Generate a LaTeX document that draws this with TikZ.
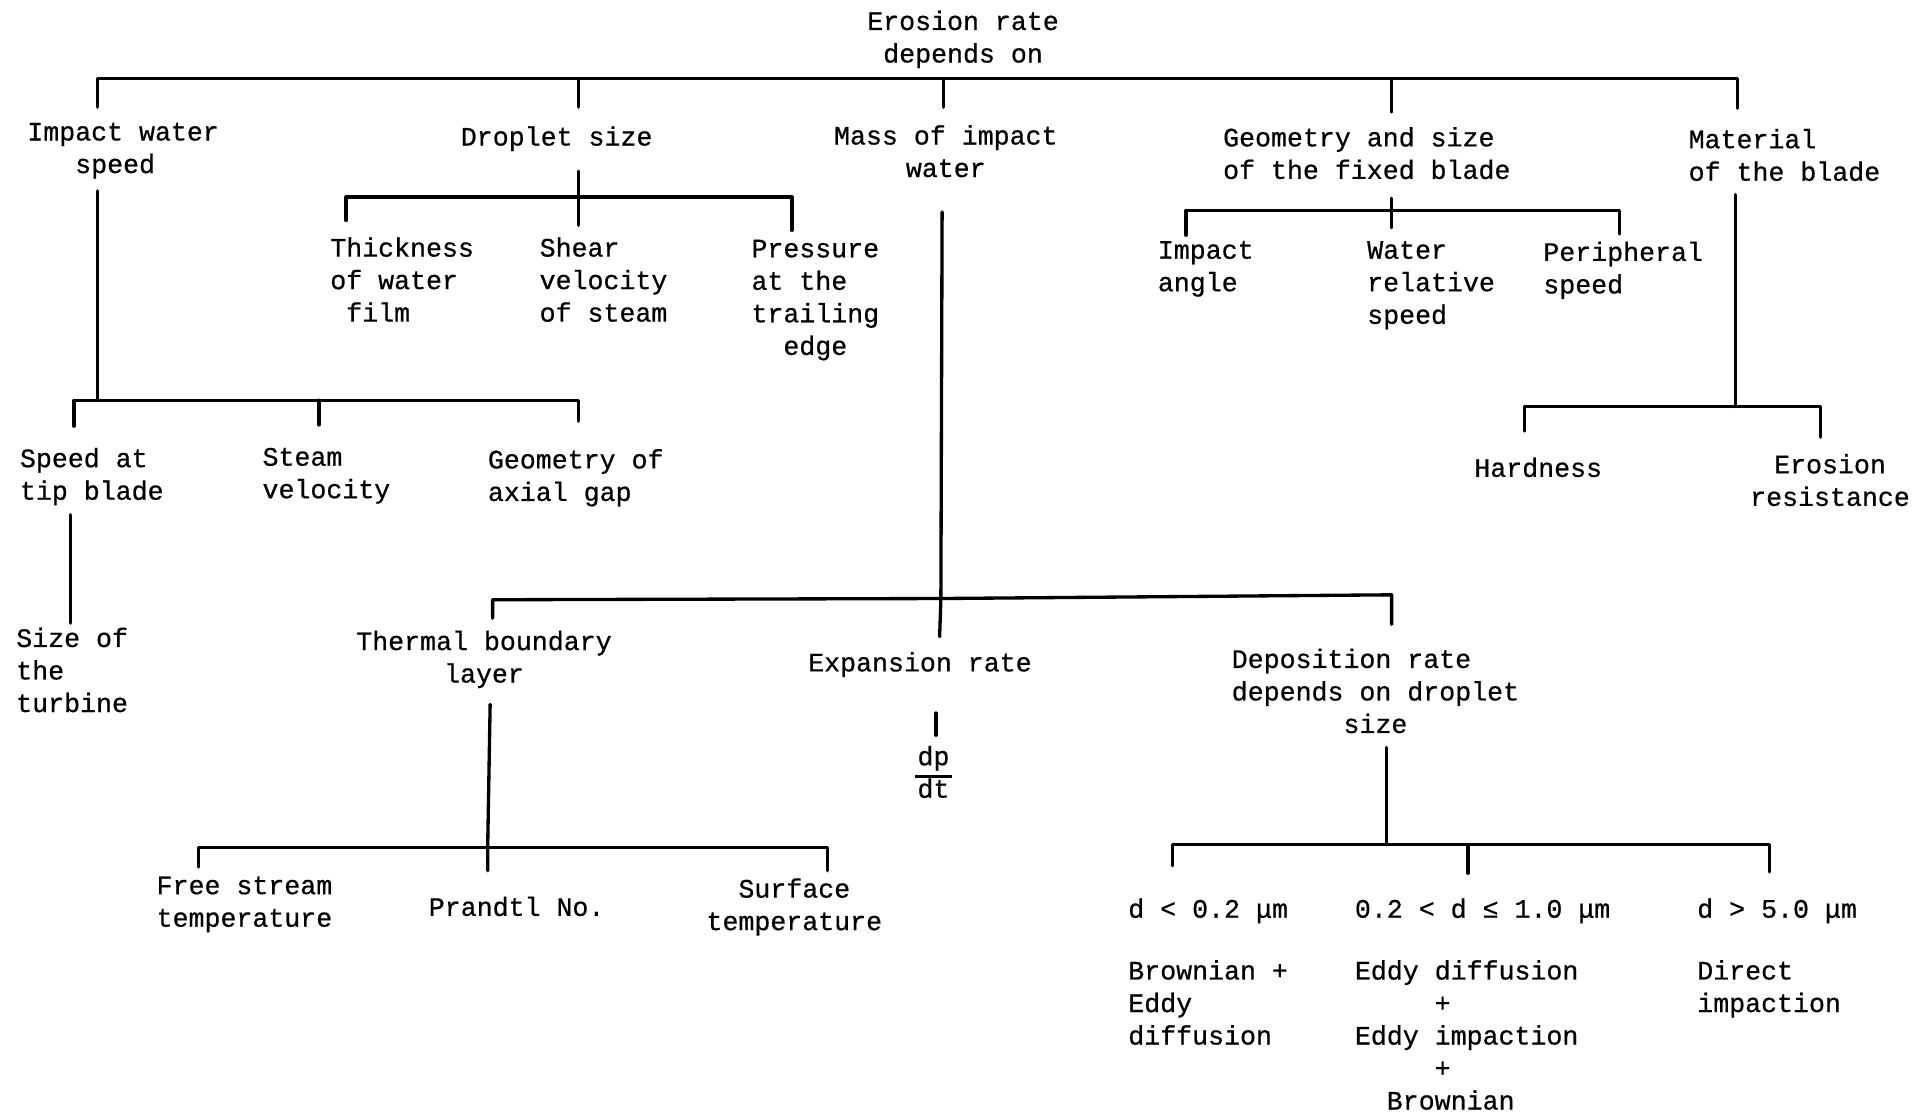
\documentclass[tikz,border=0pt]{standalone}
\usepackage{fontspec}
\newfontfamily\monofam[FakeBold=0.6]{Liberation Mono}
\newcommand\txtfont{\monofam\fontsize{21.6}{26.4}\selectfont}
\begin{document}
\begin{tikzpicture}[x=1pt,y=-1pt,
  lbl/.style={inner sep=0pt, font=\txtfont, execute at begin node=\strut, yshift=-3pt},
  lbll/.style={lbl, align=left, anchor=north west},
  lblc/.style={lbl, align=center, anchor=north},
  conn/.style={line width=2.7pt, line cap=round, line join=round}]
\useasboundingbox[fill=white] (0,0) rectangle (1568,905);

% ---------- texts ----------
\node[lblc] (root) at (782,5.5) {Erosion rate\\depends on};
\node[lbll] (iws) at (22,96.5) {Impact water\\\phantom{xxx}speed};
\node[lblc] (ds) at (452,96.5) {Droplet size};
\node[lblc] (miw) at (768,98.5) {Mass of impact\\water};
\node[lbll] (gsb) at (993,100) {Geometry and size\\of the fixed blade};
\node[lbll] (mat) at (1371,101.5) {Material\\of the blade};

\node[lbll] (thick) at (268,189.5) {Thickness\\of water\\\phantom{x}film};
\node[lbll] (shear) at (438,189.5) {Shear\\velocity\\of steam};
\node[lbll] (press) at (610,191.5) {Pressure\\at the\\trailing\\\phantom{xx}edge};

\node[lbll] (ia) at (940,192.5) {Impact\\angle};
\node[lbll] (wrs) at (1110,192.5) {Water\\relative\\speed};
\node[lbll] (ps) at (1253,193) {Peripheral\\speed};

\node[lbll] (sat) at (16,360.5) {Speed at\\tip blade};
\node[lbll] (sv) at (213,360.5) {Steam\\velocity};
\node[lbll] (goag) at (396,361.5) {Geometry of\\axial gap};
\node[lbll] (sot) at (13,506.5) {Size of\\the\\turbine};

\node[lbll] (hard) at (1197,365.5) {Hardness};
\node[lblc] (eres) at (1486,365.5) {Erosion\\resistance};

\node[lblc] (tbl) at (393,509) {Thermal boundary\\layer};
\node[lblc] (er) at (747,523.5) {Expansion rate};
\node[lblc] (dpdt) at (758,602.5) {dp\\dt};
\node[lbll] (dr) at (1000,523.5) {Deposition rate\\depends on droplet\\\phantom{xxxxxxx}size};

\node[lbll] (fst) at (127,708.5) {Free stream\\temperature};
\node[lbll] (pn) at (348,722) {Prandtl No.};
\node[lblc] (st) at (645,710) {Surface\\temperature};

\node[lbll] (d1) at (916,723.5) {d < 0.2 μm};
\node[lbll] (d2) at (1100,723.5) {0.2 < d ≤ 1.0 μm};
\node[lbll] (d3) at (1378,723.5) {d > 5.0 μm};
\node[lbll] (m1) at (916,776.5) {Brownian +\\Eddy\\diffusion};
\node[lbll] (m2) at (1100,776.5) {Eddy diffusion\\\phantom{xxxxx}+\\Eddy impaction\\\phantom{xxxxx}+\\\phantom{xx}Brownian};
\node[lbll] (m3) at (1378,776.5) {Direct\\impaction};

% fraction bar
\draw[line width=2.2pt] ([xshift=-15pt]dpdt.center) -- ([xshift=15pt]dpdt.center);

% ---------- coordinates ----------
% top bracket
\coordinate (jA1) at (79,64);   \coordinate (eA1) at (79,87);
\coordinate (jA2) at (470,64);  \coordinate (eA2) at (470,87);
\coordinate (jA3) at (766,64);  \coordinate (eA3) at (766,87);
\coordinate (jA4) at (1130,64); \coordinate (eA4) at (1130,91);
\coordinate (jA5) at (1411,64); \coordinate (eA5) at (1411,88);
% impact water speed
\coordinate (sB) at (79,155); \coordinate (jB0) at (79,325);
\coordinate (jB1) at (60,325); \coordinate (eB1) at (60,346);
\coordinate (jB2) at (259,325); \coordinate (eB2) at (259,345);
\coordinate (jB3) at (470,325); \coordinate (eB3) at (470,342);
\coordinate (sC) at (57,418); \coordinate (eC) at (57,506);
% droplet size
\coordinate (sD) at (470,139); \coordinate (jD0) at (470,160); \coordinate (eD0) at (470,183);
\coordinate (jD1) at (281,160); \coordinate (eD1) at (281,179);
\coordinate (jD3) at (643,160); \coordinate (eD3) at (643,187);
% mass of impact water
\coordinate (sE) at (765,172); \coordinate (jE0) at (764,486); \coordinate (eE0) at (763,517);
\coordinate (jE1) at (400,487); \coordinate (eE1) at (400,502);
\coordinate (jE3) at (1130,483); \coordinate (eE3) at (1130,507);
\coordinate (sF) at (760,579); \coordinate (eF) at (760,597);
% thermal boundary layer
\coordinate (sG) at (398,572); \coordinate (jG0) at (396,688); \coordinate (eG0) at (396,707);
\coordinate (jG1) at (161,688); \coordinate (eG1) at (161,704);
\coordinate (jG3) at (672,688); \coordinate (eG3) at (672,707);
% deposition
\coordinate (sH) at (1126,607); \coordinate (jH0) at (1126,686);
\coordinate (jH1) at (952,686); \coordinate (eH1) at (952,703);
\coordinate (jH2) at (1192,686); \coordinate (eH2) at (1192,709);
\coordinate (jH3) at (1437,686); \coordinate (eH3) at (1437,708);
% geometry
\coordinate (sI) at (1130,161); \coordinate (jI0) at (1130,171); \coordinate (eI0) at (1130,185);
\coordinate (jI1) at (963,171); \coordinate (eI1) at (963,191);
\coordinate (jI3) at (1315,171); \coordinate (eI3) at (1315,190);
% material
\coordinate (sJ) at (1409,158); \coordinate (jJ0) at (1409,330);
\coordinate (jJ1) at (1238,330); \coordinate (eJ1) at (1238,350);
\coordinate (jJ3) at (1478,330); \coordinate (eJ3) at (1478,355);

% ---------- connectors ----------
\draw[conn] (eA1) -- (jA1) -- (jA5) -- (eA5);
\draw[conn] (jA2) -- (eA2);
\draw[conn] (jA3) -- (eA3);
\draw[conn] (jA4) -- (eA4);

\draw[conn] (sB) -- (jB0);
\draw[conn] (eB1) -- (jB1) -- (jB3) -- (eB3);
\draw[conn] (jB2) -- (eB2);
\draw[conn] (sC) -- (eC);

\draw[conn] (sD) -- (eD0);
\draw[conn] (eD1) -- (jD1) -- (jD3) -- (eD3);

\draw[conn] (sE) -- (jE0) -- (eE0);
\draw[conn] (eE1) -- (jE1) -- (jE0) -- (jE3) -- (eE3);
\draw[conn] (sF) -- (eF);

\draw[conn] (sG) -- (jG0) -- (eG0);
\draw[conn] (eG1) -- (jG1) -- (jG3) -- (eG3);

\draw[conn] (sH) -- (jH0);
\draw[conn] (eH1) -- (jH1) -- (jH3) -- (eH3);
\draw[conn] (jH2) -- (eH2);

\draw[conn] (sI) -- (eI0);
\draw[conn] (eI1) -- (jI1) -- (jI3) -- (eI3);

\draw[conn] (sJ) -- (jJ0);
\draw[conn] (eJ1) -- (jJ1) -- (jJ3) -- (eJ3);
\end{tikzpicture}
\end{document}
